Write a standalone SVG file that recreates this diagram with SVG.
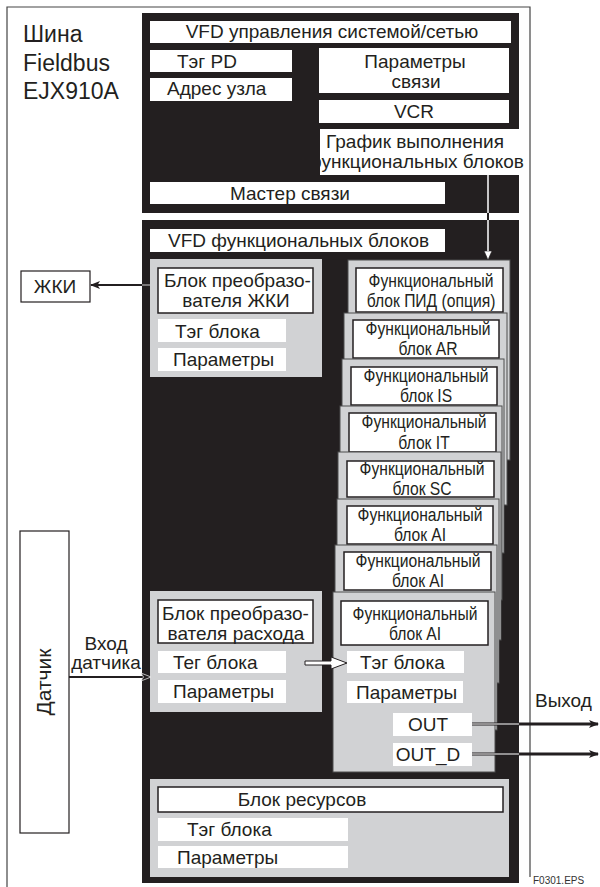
<svg xmlns="http://www.w3.org/2000/svg" width="600" height="887" viewBox="0 0 600 887">
<defs>
<style>
text{font-family:"Liberation Sans",Arial,Helvetica,sans-serif;fill:#231f20}
.t{font-size:19px}
.tm{text-anchor:middle}
.blk{fill:#231f20}
.wb{fill:#fff}
.wbb{fill:#fff;stroke:#231f20;stroke-width:1.5}
.gp{fill:#d1d2d4}
.fbo{fill:#d1d2d4;stroke:#4d4d4d;stroke-width:1}
.fbi{fill:#fff;stroke:#231f20;stroke-width:1.5}
.fbt{font-size:18px;text-anchor:middle}
.frame{stroke:#444;stroke-width:1.2;fill:none}
</style>
<marker id="ah" viewBox="0 0 10 8" refX="9" refY="4" markerWidth="10" markerHeight="8" markerUnits="userSpaceOnUse" orient="auto">
<path d="M0,0 L10,4 L0,8 L2.5,4 Z" fill="#231f20"/>
</marker>
<marker id="ahb" viewBox="-1 -1 12 10" refX="9" refY="4" markerWidth="12" markerHeight="10" markerUnits="userSpaceOnUse" orient="auto">
<path d="M0,0 L10,4 L0,8 L2.5,4 Z" fill="#231f20" stroke="#fff" stroke-width="0.7"/>
</marker>
<marker id="ahw" viewBox="0 0 10 10" refX="9" refY="5" markerWidth="9" markerHeight="9" markerUnits="userSpaceOnUse" orient="auto">
<path d="M0,0.5 L10,5 L0,9.5 Z" fill="#fff" stroke="#231f20" stroke-width="0.8"/>
</marker>
</defs>

<g id="frame">
<path class="frame" d="M7,887 V7 H530 V877"/>
<text x="23" y="42" style="font-size:23px">Шина</text>
<text x="23" y="71" style="font-size:23px">Fieldbus</text>
<text x="23" y="99" style="font-size:23px">EJX910A</text>
</g>

<g id="vfd-system">
<rect class="blk" x="142" y="13" width="377" height="200"/>
<rect class="wb" x="150" y="21" width="361" height="22"/>
<text class="t tm" x="332" y="38">VFD управления системой/сетью</text>
<rect class="wb" x="150" y="50" width="142" height="22"/>
<text class="t" x="177" y="68">Тэг PD</text>
<rect class="wb" x="150" y="78" width="142" height="23"/>
<text class="t" x="167" y="95">Адрес узла</text>
<rect class="wb" x="319" y="48" width="190" height="45"/>
<text class="t tm" x="415" y="68">Параметры</text>
<text class="t tm" x="416" y="88">связи</text>
<rect class="wb" x="319" y="100" width="190" height="23"/>
<text class="t tm" x="414" y="118">VCR</text>
<rect class="wb" x="320" y="129" width="199" height="46"/>
<text class="t tm" x="415" y="148">График выполнения</text>
<text class="t tm" x="415" y="168">функциональных блоков</text>
<rect class="wb" x="150" y="182" width="295" height="22"/>
<text class="t tm" x="290" y="200">Мастер связи</text>
</g>

<g id="vfd-function">
<rect class="blk" x="142" y="220" width="377" height="663"/>
<rect class="wb" x="150" y="229" width="295" height="23"/>
<text class="t" x="168" y="247">VFD функциональных блоков</text>
</g>

<g id="lcd-transducer">
<rect class="gp" x="150" y="259" width="172" height="118"/>
<rect class="wbb" x="158" y="268" width="155" height="45"/>
<text class="t" x="164" y="287">Блок преобразо-</text>
<text class="t tm" x="236" y="307">вателя ЖКИ</text>
<rect class="wb" x="158" y="319" width="128" height="23"/>
<text class="t" x="175" y="338">Тэг блока</text>
<rect class="wb" x="158" y="348" width="128" height="23"/>
<text class="t" x="173" y="366">Параметры</text>
</g>

<g id="lcd">
<rect x="21" y="271" width="69" height="31" fill="#fff" stroke="#231f20" stroke-width="1.2"/>
<text class="t tm" x="55" y="293">ЖКИ</text>
</g>

<g id="fb-pid">
<rect class="fbo" x="348" y="260" width="162" height="200"/>
<rect class="fbi" x="356" y="268" width="147" height="44"/>
<text class="fbt" transform="matrix(0.87 0 0 1 431 287)">Функциональный</text>
<text class="fbt" transform="matrix(0.87 0 0 1 431 307)">блок ПИД (опция)</text>
</g>
<g id="fb-ar">
<rect class="fbo" x="344" y="313" width="163" height="192"/>
<rect class="fbi" x="353" y="320" width="146" height="38"/>
<text class="fbt" transform="matrix(0.87 0 0 1 428 335)">Функциональный</text>
<text class="fbt" transform="matrix(0.87 0 0 1 428 355)">блок AR</text>
</g>
<g id="fb-is">
<rect class="fbo" x="342" y="359" width="162" height="194"/>
<rect class="fbi" x="351" y="367" width="146" height="38"/>
<text class="fbt" transform="matrix(0.87 0 0 1 426 382)">Функциональный</text>
<text class="fbt" transform="matrix(0.87 0 0 1 426 402)">блок IS</text>
</g>
<g id="fb-it">
<rect class="fbo" x="340" y="406" width="162" height="194"/>
<rect class="fbi" x="349" y="413" width="147" height="39"/>
<text class="fbt" transform="matrix(0.87 0 0 1 424 428)">Функциональный</text>
<text class="fbt" transform="matrix(0.87 0 0 1 424 449)">блок IT</text>
</g>
<g id="fb-sc">
<rect class="fbo" x="338" y="452" width="163" height="188"/>
<rect class="fbi" x="347" y="461" width="147" height="36"/>
<text class="fbt" transform="matrix(0.87 0 0 1 422 475)">Функциональный</text>
<text class="fbt" transform="matrix(0.87 0 0 1 422 495)">блок SC</text>
</g>
<g id="fb-ai3">
<rect class="fbo" x="337" y="499" width="162" height="184"/>
<rect class="fbi" x="347" y="506" width="146" height="38"/>
<text class="fbt" transform="matrix(0.87 0 0 1 420 521)">Функциональный</text>
<text class="fbt" transform="matrix(0.87 0 0 1 420 541)">блок AI</text>
</g>
<g id="fb-ai2">
<rect class="fbo" x="335" y="545" width="162" height="185"/>
<rect class="fbi" x="344" y="552" width="147" height="38"/>
<text class="fbt" transform="matrix(0.87 0 0 1 418 567)">Функциональный</text>
<text class="fbt" transform="matrix(0.87 0 0 1 418 587)">блок AI</text>
</g>
<g id="fb-ai1">
<rect class="fbo" x="333" y="592" width="162" height="180"/>
<rect class="fbi" x="341" y="601" width="147" height="44"/>
<text class="fbt" transform="matrix(0.87 0 0 1 415 620)">Функциональный</text>
<text class="fbt" transform="matrix(0.87 0 0 1 415 640)">блок AI</text>
<rect class="wb" x="347" y="651" width="117" height="22"/>
<text class="t" x="360" y="669">Тэг блока</text>
<rect class="wb" x="347" y="681" width="116" height="22"/>
<text class="t" x="356" y="699">Параметры</text>
<rect class="wb" x="393" y="713" width="79" height="23"/>
<text class="t tm" x="428" y="731">OUT</text>
<rect class="wb" x="393" y="743" width="79" height="23"/>
<text class="t tm" x="428" y="761">OUT_D</text>
</g>

<g id="flow-transducer">
<rect class="gp" x="150" y="591" width="172" height="121"/>
<rect class="wbb" x="158" y="600" width="155" height="43"/>
<text class="t" x="162" y="620">Блок преобразо-</text>
<text class="t tm" x="236" y="640">вателя расхода</text>
<rect class="wb" x="158" y="651" width="128" height="22"/>
<text class="t" x="173" y="669">Тег блока</text>
<rect class="wb" x="158" y="680" width="128" height="23"/>
<text class="t" x="173" y="698">Параметры</text>
</g>

<g id="resource">
<rect class="gp" x="150" y="779" width="359" height="98"/>
<rect class="wbb" x="158" y="787" width="345" height="25"/>
<text class="t tm" x="302" y="806">Блок ресурсов</text>
<rect class="wb" x="158" y="818" width="190" height="23"/>
<text class="t" x="187" y="836">Тэг блока</text>
<rect class="wb" x="158" y="846" width="190" height="22"/>
<text class="t" x="177" y="864">Параметры</text>
</g>

<g id="sensor">
<rect x="20" y="531" width="49" height="302" fill="#fff" stroke="#231f20" stroke-width="1.2"/>
<text class="tm" transform="translate(51,682) rotate(-90)" style="font-size:21px">Датчик</text>
</g>

<g id="connectors">
<line x1="488" y1="175" x2="488" y2="213" stroke="#231f20" stroke-width="4"/>
<line x1="488" y1="175" x2="488" y2="213" stroke="#fff" stroke-width="1.5"/>
<line x1="488" y1="213" x2="488" y2="220" stroke="#231f20" stroke-width="2"/>
<line x1="488" y1="220" x2="488" y2="259" stroke="#fff" stroke-width="1.5" marker-end="url(#ahw)"/>
<line x1="150" y1="285" x2="91" y2="285" stroke="#231f20" stroke-width="2" marker-end="url(#ah)"/>
<line x1="142" y1="285" x2="150" y2="285" stroke="#fff" stroke-width="0.8"/>
<line x1="69" y1="677" x2="150" y2="677" stroke="#231f20" stroke-width="2" marker-end="url(#ahb)"/>
<path d="M305,661 H331 V657 L347,663 L331,669 V665 H305 Z" fill="#fff" stroke="#231f20" stroke-width="1"/>
<line x1="472" y1="724" x2="598" y2="724" stroke="#231f20" stroke-width="3" marker-end="url(#ah)"/>
<line x1="472" y1="724" x2="519" y2="724" stroke="#fff" stroke-width="1"/>
<line x1="472" y1="754" x2="598" y2="754" stroke="#231f20" stroke-width="3" marker-end="url(#ah)"/>
<line x1="472" y1="754" x2="519" y2="754" stroke="#fff" stroke-width="1"/>
<text class="t tm" x="106" y="650">Вход</text>
<text class="t tm" x="106" y="669">датчика</text>
<text class="t" x="535" y="707">Выход</text>
<text x="533" y="884" style="font-size:10px;fill:#333">F0301.EPS</text>
</g>
</svg>
